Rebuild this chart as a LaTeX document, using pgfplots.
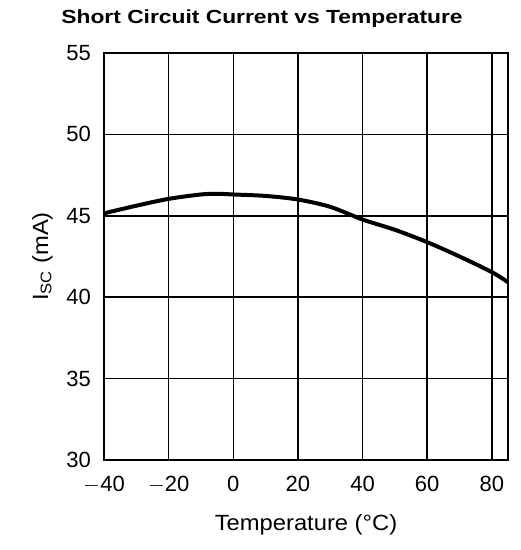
\documentclass[border=0pt]{standalone}
\usepackage{pgfplots}
\pgfplotsset{compat=1.18}
\usepackage{fontspec}
\setmainfont{Liberation Sans}
\newfontfamily\titlefont[FakeStretch=1.2]{Liberation Sans}
\newfontfamily\labelfont[FakeStretch=1.08]{Liberation Sans}
\begin{document}
\begin{tikzpicture}
\useasboundingbox (-52pt,-45pt) rectangle (208pt,230pt);
\begin{axis}[
  at={(0,0)}, anchor=south west,
  scale only axis, width=202pt, height=203.5pt,
  xmin=-40, xmax=85, ymin=30, ymax=55,
  xtick={-40,-20,0,20,40,60,80},
  ytick={30,35,40,45,50,55},
  xticklabels={$-$40,$-$20,0,20,40,60,80},
  grid=major,
  major grid style={black, line width=0.75pt},
  axis line style={black, line width=1pt},
  major tick length=0pt,
  tick label style={font=\fontsize{11}{12}\selectfont},
  /pgf/number format/assume math mode=true,
  xticklabel style={yshift=-4.5pt},
  yticklabel style={xshift=-3pt},
  xlabel={Temperature (°C)},
  ylabel={I\textsubscript{SC} (mA)},
  label style={font=\labelfont\fontsize{11}{12}\selectfont},
  xlabel style={yshift=-4pt},
  ylabel style={yshift=0pt},
]
\addplot[black, line width=2pt, smooth] coordinates {
(-40,45.15) (-30,45.62) (-20,46.04) (-10,46.31) (-5,46.35) (0,46.31) (10,46.22) (20,46.0) (30,45.55) (40,44.77) (50,44.14) (60,43.38) (70,42.5) (80,41.54) (85,40.92)
};
\end{axis}
\node[font=\titlefont\bfseries\fontsize{9.5}{10}\selectfont] at (79pt,220.5pt) {Short Circuit Current vs Temperature};
\end{tikzpicture}
\end{document}
